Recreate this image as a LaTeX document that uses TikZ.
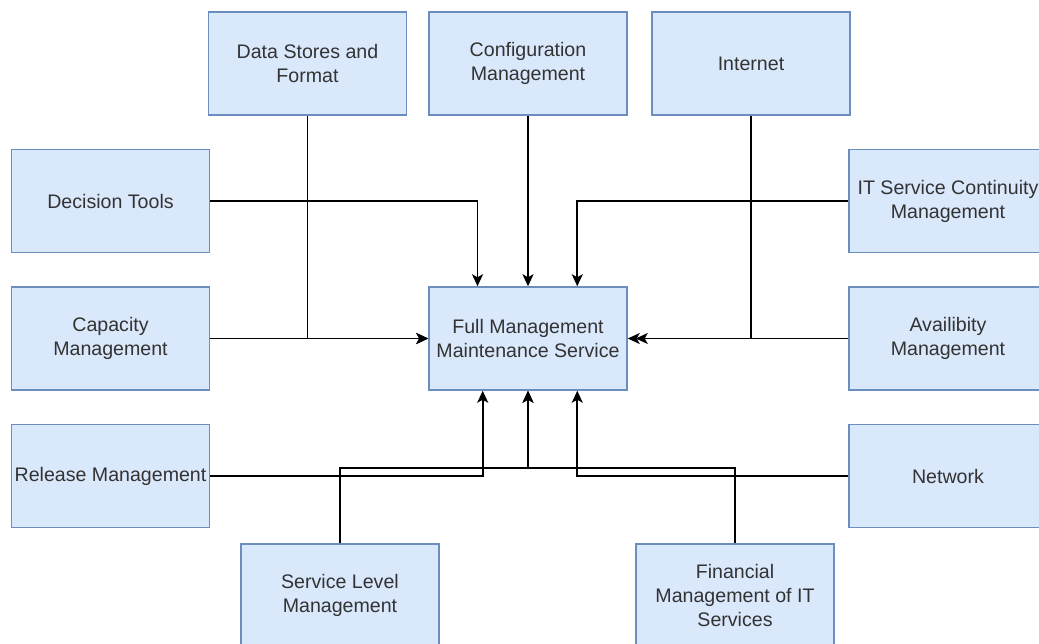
\documentclass[tikz,border=0pt]{standalone}
\usepackage{fontspec}
\setmainfont{Liberation Sans}
\usetikzlibrary{arrows.meta,calc}
\definecolor{boxfill}{HTML}{DAE8FC}
\definecolor{boxline}{HTML}{6C8EBF}
\definecolor{boxtext}{HTML}{333333}
\begin{document}
\begin{tikzpicture}[x=0.5pt,y=-0.5pt,
  box/.style={draw=boxline,fill=boxfill,line width=0.75pt,minimum width=99pt,minimum height=51.5pt,inner xsep=1pt,align=center,text=boxtext,font=\fontsize{9.8}{12}\selectfont},
  link/.style={line width=0.8pt,-{Stealth[length=6pt,width=5.5pt,inset=1.5pt]}}]
\fill[white] (0,0) rectangle (1039,643);
\useasboundingbox (0,0) rectangle (1039,643);
\clip (0,0) rectangle (1039,643);
\node[box] (ds) at (307.5,63.5) {Data Stores and\\Format};
\node[box] (cfg) at (528,63.5) {Configuration\\Management};
\node[box] (inet) at (751,63.5) {Internet};
\node[box] (dec) at (110.5,201) {Decision Tools};
\node[box] (itsc) at (948,201) {IT Service Continuity\\Management};
\node[box] (cap) at (110.5,338.5) {Capacity\\Management};
\node[box] (fm) at (528,338.5) {Full Management\\Maintenance Service};
\node[box] (avail) at (948,338.5) {Availibity\\Management};
\node[box] (rel) at (110.5,476) {Release Management};
\node[box] (net) at (948,476) {Network};
\node[box] (slm) at (340,595.5) {Service Level\\Management};
\node[box] (fin) at (735,595.5) {Financial\\Management of IT\\Services};
\coordinate (fmn1) at ($(fm.north west)!0.247!(fm.north east)$);
\coordinate (fmn3) at ($(fm.north west)!0.747!(fm.north east)$);
\coordinate (fms1) at ($(fm.south west)!0.273!(fm.south east)$);
\coordinate (fms3) at ($(fm.south west)!0.747!(fm.south east)$);
\coordinate (join) at ($(fm.south)+(0,77)$);
\draw[link] (dec.east) -| (fmn1);
\draw[link] (cfg.south) -- (fm.north);
\draw[link] (itsc.west) -| (fmn3);
\draw[link] (ds.south) |- (fm.west);
\draw[link] (cap.east) -- (fm.west);
\draw[link] (inet.south) |- (fm.east);
\draw[link,shorten >=4pt] (avail.west) -- (fm.east);
\draw[link] (rel.east) -| (fms1);
\draw[link] (net.west) -| (fms3);
\draw[link] (slm.north) |- (join) -- (fm.south);
\draw[link] (fin.north) |- (join) -- (fm.south);
\end{tikzpicture}
\end{document}
